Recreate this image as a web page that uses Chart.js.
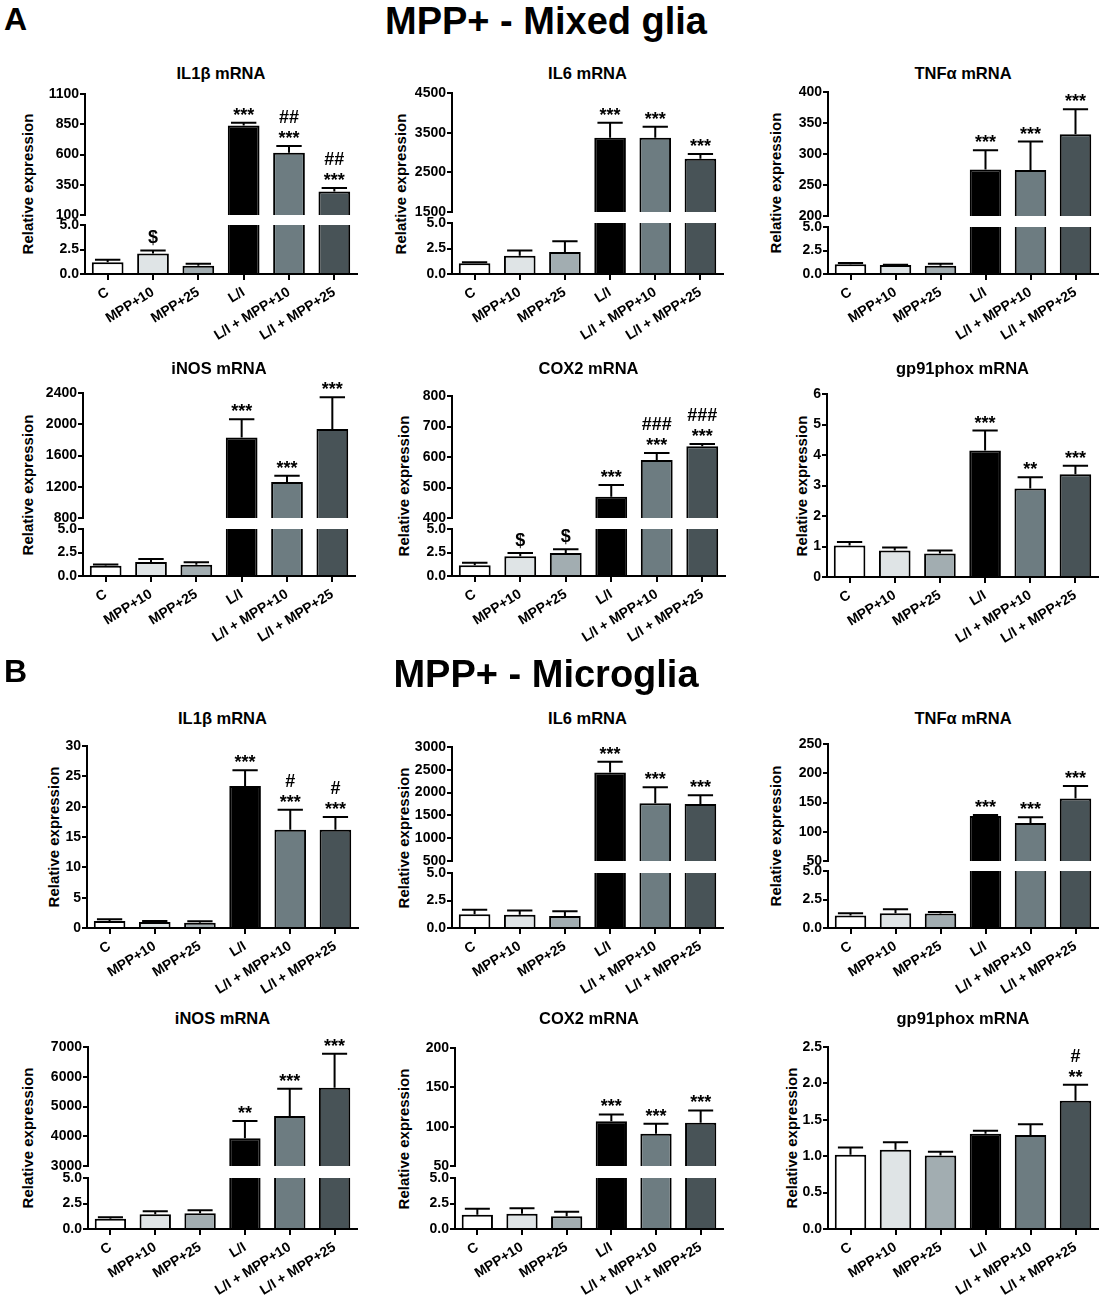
<!DOCTYPE html>
<html>
<head>
<meta charset="utf-8">
<script src="https://cdn.jsdelivr.net/npm/chart.js@4.4.0/dist/chart.umd.min.js"></script>
<style>
  body { margin: 0; background: #fff; width: 1107px; height: 1300px; position: relative; overflow: hidden;
         font-family: "Liberation Sans", Arial, sans-serif; font-weight: bold; color: #000; }
  canvas { position: absolute; }
  .txt { position: absolute; white-space: nowrap; line-height: 1; }
</style>
</head>
<body>
<script>
// categories
const groups = ['C', 'MPP+10', 'MPP+25', 'L/I', 'L/I + MPP+10', 'L/I + MPP+25'];

// A - MPP+ mixed glia
const gliaIL1bMean = [1.2, 2.1, 0.85, 840, 615, 295];
const gliaIL1bSem = [0.25, 0.3, 0.2, 22, 55, 28];
const gliaIL1bMarks = [[], ['$'], [], ['***'], ['***', '##'], ['***', '##']];
const gliaIL1bTicks = [100, 350, 600, 850, 1100];

const gliaIL6Mean = [1.05, 1.8, 2.15, 3370, 3370, 2840];
const gliaIL6Sem = [0.1, 0.5, 1.05, 380, 280, 120];
const gliaIL6Marks = [[], [], [], ['***'], ['***'], ['***']];
const gliaIL6Ticks = [1500, 2500, 3500, 4500];

const gliaTNFaMean = [1.05, 0.95, 0.88, 275, 274, 332];
const gliaTNFaSem = [0.12, 0.03, 0.2, 31, 46, 40];
const gliaTNFaMarks = [[], [], [], ['***'], ['***'], ['***']];
const gliaTNFaTicks = [200, 250, 300, 350, 400];

const gliaINOSMean = [1.1, 1.5, 1.2, 1830, 1260, 1940];
const gliaINOSSem = [0.12, 0.3, 0.25, 235, 80, 405];
const gliaINOSMarks = [[], [], [], ['***'], ['***'], ['***']];
const gliaINOSTicks = [800, 1200, 1600, 2000, 2400];

const gliaCOX2Mean = [1.15, 2.1, 2.45, 470, 590, 635];
const gliaCOX2Sem = [0.25, 0.35, 0.4, 38, 23, 8];
const gliaCOX2Marks = [[], ['$'], ['$'], ['***'], ['***', '###'], ['***', '###']];
const gliaCOX2Ticks = [400, 500, 600, 700, 800];

const gliaGp91Mean = [1.03, 0.87, 0.77, 4.15, 2.9, 3.37];
const gliaGp91Sem = [0.12, 0.1, 0.1, 0.65, 0.37, 0.28];
const gliaGp91Marks = [[], [], [], ['***'], ['**'], ['***']];
const gliaGp91Ticks = [0, 1, 2, 3, 4, 5, 6];

// B - MPP+ microglia
const microIL1bMean = [1.15, 1.0, 0.85, 23.4, 16.2, 16.2];
const microIL1bSem = [0.3, 0.15, 0.25, 2.6, 3.3, 2.1];
const microIL1bMarks = [[], [], [], ['***'], ['***', '#'], ['***', '#']];
const microIL1bTicks = [0, 5, 10, 15, 20, 25, 30];

const microIL6Mean = [1.25, 1.2, 1.1, 2440, 1765, 1750];
const microIL6Sem = [0.42, 0.4, 0.42, 235, 355, 190];
const microIL6Marks = [[], [], [], ['***'], ['***'], ['***']];
const microIL6Ticks = [500, 1000, 1500, 2000, 2500, 3000];

const microTNFaMean = [1.1, 1.3, 1.27, 127, 115, 157];
const microTNFaSem = [0.2, 0.35, 0.13, 1.5, 10, 21];
const microTNFaMarks = [[], [], [], ['***'], ['***'], ['***']];
const microTNFaTicks = [50, 100, 150, 200, 250];

const microINOSMean = [1.0, 1.45, 1.55, 3930, 4680, 5630];
const microINOSSem = [0.15, 0.3, 0.28, 580, 920, 1140];
const microINOSMarks = [[], [], [], ['**'], ['***'], ['***']];
const microINOSTicks = [3000, 4000, 5000, 6000, 7000];

const microCOX2Mean = [1.4, 1.5, 1.25, 107, 91, 105];
const microCOX2Sem = [0.58, 0.53, 0.45, 8.5, 12.7, 15.7];
const microCOX2Marks = [[], [], [], ['***'], ['***'], ['***']];
const microCOX2Ticks = [50, 100, 150, 200];

const microGp91Mean = [1.02, 1.09, 1.01, 1.31, 1.29, 1.76];
const microGp91Sem = [0.1, 0.1, 0.05, 0.04, 0.15, 0.22];
const microGp91Marks = [[], [], [], [], [], ['**', '#']];
const microGp91Ticks = [0, 0.5, 1, 1.5, 2, 2.5];

// lower part of the broken axes
const lowTicks = [0, 2.5, 5];

// bar fills per group
const barFills = ['#ffffff', '#dfe4e6', '#a2adb1', '#000000', '#6d7c81', '#485357'];

Chart.defaults.font.family = '"Liberation Sans", Arial, sans-serif';
Chart.defaults.font.weight = 'bold';
Chart.defaults.color = '#000';

const panels = [
  { title: 'IL1β mRNA', mean: gliaIL1bMean, sem: gliaIL1bSem, marks: gliaIL1bMarks, high: gliaIL1bTicks },
  { title: 'IL6 mRNA', mean: gliaIL6Mean, sem: gliaIL6Sem, marks: gliaIL6Marks, high: gliaIL6Ticks },
  { title: 'TNFα mRNA', mean: gliaTNFaMean, sem: gliaTNFaSem, marks: gliaTNFaMarks, high: gliaTNFaTicks },
  { title: 'iNOS mRNA', mean: gliaINOSMean, sem: gliaINOSSem, marks: gliaINOSMarks, high: gliaINOSTicks },
  { title: 'COX2 mRNA', mean: gliaCOX2Mean, sem: gliaCOX2Sem, marks: gliaCOX2Marks, high: gliaCOX2Ticks },
  { title: 'gp91phox mRNA', mean: gliaGp91Mean, sem: gliaGp91Sem, marks: gliaGp91Marks, ticks: gliaGp91Ticks, dec: 0 },
  { title: 'IL1β mRNA', mean: microIL1bMean, sem: microIL1bSem, marks: microIL1bMarks, ticks: microIL1bTicks, dec: 0 },
  { title: 'IL6 mRNA', mean: microIL6Mean, sem: microIL6Sem, marks: microIL6Marks, high: microIL6Ticks },
  { title: 'TNFα mRNA', mean: microTNFaMean, sem: microTNFaSem, marks: microTNFaMarks, high: microTNFaTicks },
  { title: 'iNOS mRNA', mean: microINOSMean, sem: microINOSSem, marks: microINOSMarks, high: microINOSTicks },
  { title: 'COX2 mRNA', mean: microCOX2Mean, sem: microCOX2Sem, marks: microCOX2Marks, high: microCOX2Ticks },
  { title: 'gp91phox mRNA', mean: microGp91Mean, sem: microGp91Sem, marks: microGp91Marks, ticks: microGp91Ticks, dec: 1 }
];

// plot boxes: axis x, right end, top, break (hi/lo), zero line, y title x, panel title y
const boxes = [
  { x: 85, r: 357, top: 94, hi: 215, lo: 225, zero: 274, yt: 27, ty: 73 },
  { x: 452, r: 723, top: 93, hi: 212, lo: 223, zero: 274, yt: 400, ty: 73 },
  { x: 828, r: 1098, top: 92, hi: 216, lo: 227, zero: 274, yt: 775, ty: 73 },
  { x: 83, r: 355, top: 393, hi: 518, lo: 529, zero: 576, yt: 27, ty: 368 },
  { x: 452, r: 725, top: 396, hi: 518, lo: 529, zero: 576, yt: 403, ty: 368 },
  { x: 827, r: 1098, top: 394, zero: 577, yt: 801, ty: 368 },
  { x: 87, r: 358, top: 746, zero: 928, yt: 53, ty: 718 },
  { x: 452, r: 723, top: 747, hi: 861, lo: 873, zero: 928, yt: 403, ty: 718 },
  { x: 828, r: 1098, top: 744, hi: 861, lo: 871, zero: 928, yt: 775, ty: 718 },
  { x: 88, r: 357, top: 1047, hi: 1166, lo: 1178, zero: 1229, yt: 27, ty: 1018 },
  { x: 455, r: 723, top: 1048, hi: 1166, lo: 1178, zero: 1229, yt: 403, ty: 1018 },
  { x: 828, r: 1098, top: 1047, zero: 1229, yt: 791, ty: 1018 }
];

function addText(text, x, y, size, rot, center) {
  const d = document.createElement('div');
  d.className = 'txt';
  d.textContent = text;
  d.style.fontSize = size + 'px';
  d.style.left = x + 'px';
  d.style.top = y + 'px';
  d.style.transform = center === false ? 'none' : 'translate(-50%, -50%) rotate(' + rot + 'deg)';
  document.body.appendChild(d);
}

// error bars (upper half only) and significance marks
function drawErrors(chart, p) {
  const { ctx, chartArea: a } = chart;
  const y = chart.scales.y;
  const bars = chart.getDatasetMeta(0).data;
  ctx.save();
  ctx.beginPath();
  ctx.rect(a.left, a.top - 1, a.right - a.left, a.bottom - a.top + 1);
  ctx.clip();
  ctx.strokeStyle = '#000';
  ctx.lineWidth = 2;
  bars.forEach((bar, i) => {
    const y0 = y.getPixelForValue(p.mean[i]);
    const y1 = y.getPixelForValue(p.mean[i] + p.sem[i]);
    const half = bar.width * 0.4;
    ctx.beginPath();
    ctx.moveTo(bar.x, y0);
    ctx.lineTo(bar.x, y1);
    ctx.moveTo(bar.x - half, y1);
    ctx.lineTo(bar.x + half, y1);
    ctx.stroke();
  });
  ctx.restore();

  ctx.save();
  ctx.fillStyle = '#000';
  ctx.textAlign = 'center';
  ctx.font = 'bold 18px "Liberation Sans", Arial, sans-serif';
  bars.forEach((bar, i) => {
    const v = p.mean[i];
    if (v < y.min || v > y.max) return;
    let base = y.getPixelForValue(v + p.sem[i]);
    p.marks[i].forEach((m, k) => {
      const star = m[0] === '*';
      base -= k === 0 ? (star ? 2 : 7) : 21;
      ctx.fillText(m, bar.x, base);
    });
  });
  ctx.restore();
}

function addSegment(p, b, ticks, dec, top, bottom, showX) {
  const YW = 70, PT = 45, PR = 12;
  const PB = showX ? 0 : 12;
  const XH = showX ? 80 : 0;
  const w = b.r - b.x + YW + PR;
  const h = bottom - top + PT + PB + XH;
  const cv = document.createElement('canvas');
  cv.width = w;
  cv.height = h;
  cv.style.width = w + 'px';
  cv.style.height = h + 'px';
  cv.style.left = (b.x - YW) + 'px';
  cv.style.top = (top - PT) + 'px';
  document.body.appendChild(cv);

  new Chart(cv, {
    type: 'bar',
    data: {
      labels: groups,
      datasets: [{
        data: p.mean,
        backgroundColor: barFills,
        borderColor: '#000',
        borderWidth: 2,
        barPercentage: 0.7,
        categoryPercentage: 1,
        clip: 0
      }]
    },
    options: {
      responsive: false,
      animation: false,
      devicePixelRatio: 1,
      layout: { padding: { top: PT, right: PR, bottom: PB, left: 0 } },
      plugins: { legend: { display: false }, tooltip: { enabled: false } },
      scales: {
        x: {
          display: showX,
          offset: true,
          z: 1,
          afterFit: s => { s.height = XH; },
          grid: { offset: false, drawOnChartArea: false, tickLength: 6, color: '#000', lineWidth: 2 },
          border: { color: '#000', width: 2 },
          ticks: { autoSkip: false, minRotation: 32, maxRotation: 32, padding: 4, font: { size: 14, weight: 'bold' } }
        },
        y: {
          min: ticks[0],
          max: ticks[ticks.length - 1],
          z: 1,
          afterFit: s => { s.width = YW; },
          afterBuildTicks: s => { s.ticks = ticks.map(v => ({ value: v })); },
          grid: { drawOnChartArea: false, tickLength: 5, color: '#000', lineWidth: 2 },
          border: { color: '#000', width: 2 },
          ticks: { padding: 1, font: { size: 14, weight: 'bold' }, callback: v => Number(v).toFixed(dec) }
        }
      }
    },
    plugins: [{ id: 'errbars', afterDatasetsDraw: chart => drawErrors(chart, p) }]
  });
}

panels.forEach((p, i) => {
  const b = boxes[i];
  addText(p.title, (b.x + b.r) / 2, b.ty, 16.5, 0);
  addText('Relative expression', b.yt, (b.top + b.zero) / 2, 15, -90);
  if (p.high) {
    addSegment(p, b, p.high, 0, b.top, b.hi, false);
    addSegment(p, b, lowTicks, 1, b.lo, b.zero, true);
  } else {
    addSegment(p, b, p.ticks, p.dec, b.top, b.zero, true);
  }
});

// figure headings
addText('A', 4, 3, 32, 0, false);
addText('MPP+ - Mixed glia', 546, 21, 38, 0);
addText('B', 4, 655, 32, 0, false);
addText('MPP+ - Microglia', 546, 674, 38, 0);
</script>
</body>
</html>
